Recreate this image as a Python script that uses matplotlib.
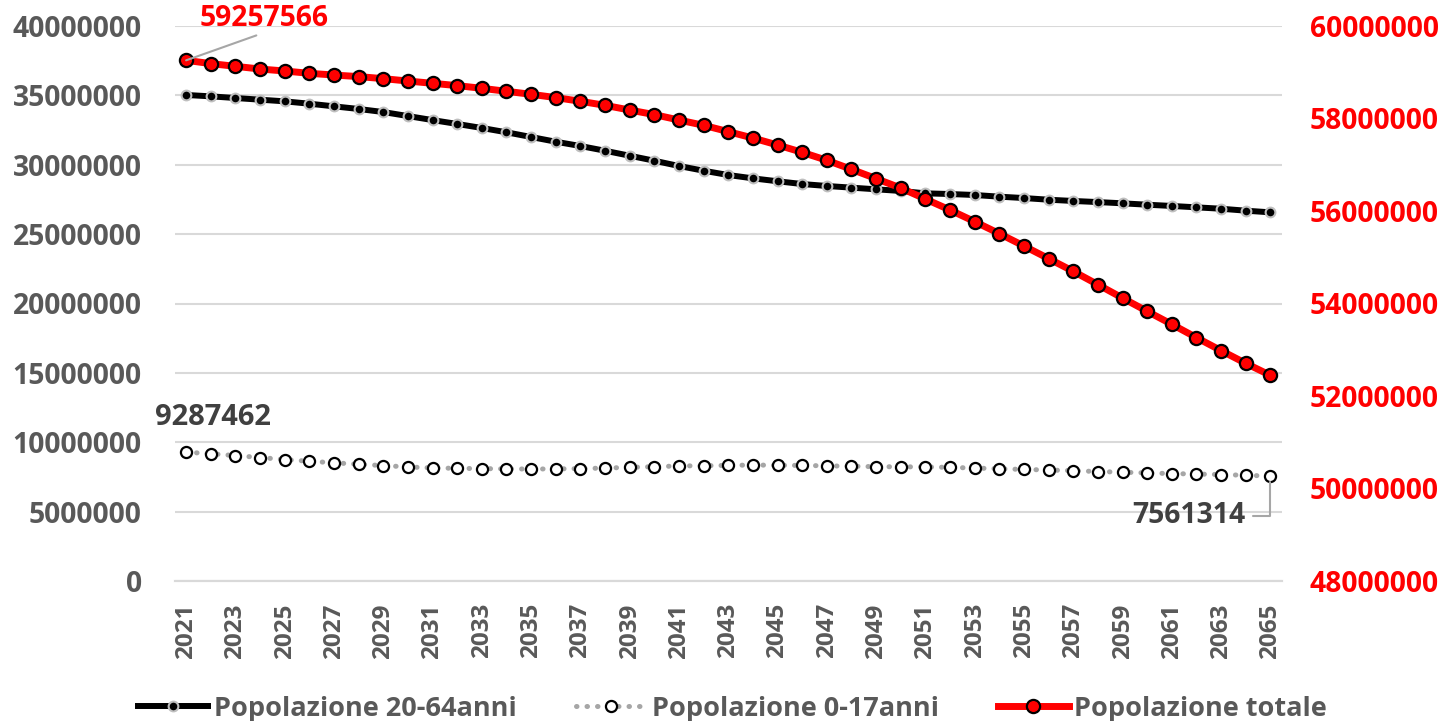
import matplotlib
matplotlib.use('Agg')
import matplotlib.pyplot as plt
from matplotlib.ticker import FuncFormatter

#——————————

years = list(range(2021, 2066))

# Popolazione 20-64 anni (left axis)
pop_20_64 = [35.03, 34.93, 34.81, 34.69, 34.57, 34.40, 34.21, 34.02, 33.80, 33.51,
             33.22, 32.94, 32.65, 32.34, 32.00, 31.66, 31.35, 31.01, 30.65, 30.29,
             29.91, 29.57, 29.26, 29.02, 28.81, 28.61, 28.47, 28.35, 28.23, 28.11,
             27.94, 27.89, 27.82, 27.70, 27.60, 27.48, 27.39, 27.31, 27.22, 27.12,
             27.03, 26.93, 26.83, 26.69, 26.57]

# Popolazione 0-17 anni (left axis)
pop_0_17 = [9.287462, 9.17, 9.04, 8.90, 8.75, 8.63, 8.52, 8.41, 8.32, 8.22,
            8.15, 8.12, 8.10, 8.08, 8.07, 8.08, 8.10, 8.14, 8.19, 8.24,
            8.29, 8.31, 8.33, 8.36, 8.34, 8.33, 8.30, 8.27, 8.24, 8.23,
            8.22, 8.19, 8.14, 8.09, 8.04, 8.00, 7.95, 7.89, 7.84, 7.79,
            7.74, 7.71, 7.67, 7.62, 7.561314]

# Popolazione totale (right axis)
pop_tot = [59.257566, 59.187, 59.128, 59.070, 59.027, 58.977, 58.940, 58.906, 58.862, 58.810,
           58.761, 58.711, 58.653, 58.588, 58.523, 58.452, 58.372, 58.285, 58.183, 58.084,
           57.967, 57.853, 57.716, 57.578, 57.427, 57.269, 57.096, 56.901, 56.700, 56.497,
           56.259, 56.021, 55.770, 55.511, 55.243, 54.970, 54.696, 54.408, 54.118, 53.831,
           53.550, 53.262, 52.981, 52.706, 52.447]

pop_20_64 = [v * 1e6 for v in pop_20_64]
pop_0_17 = [v * 1e6 for v in pop_0_17]
pop_tot = [v * 1e6 for v in pop_tot]

#——————————

plt.rcParams['font.family'] = ['Open Sans', 'DejaVu Sans']
plt.rcParams['font.weight'] = 'bold'

gray_txt = '#595959'
fig = plt.figure(figsize=(14.5, 7.21), dpi=100)
ax1 = fig.add_axes([175/1450, 1 - 581/721, (1282 - 175)/1450, (581 - 26)/721])
ax2 = ax1.twinx()

l1, = ax1.plot(years, pop_20_64, color='black', linewidth=4.3, marker='o', markersize=7,
               markerfacecolor='black', markeredgecolor='#BFBFBF', markeredgewidth=1.5,
               zorder=3, label='Popolazione 20-64anni')
l2, = ax1.plot(years, pop_0_17, color='#A6A6A6', linewidth=3.6, linestyle=(0, (0.1, 2.0)),
               dash_capstyle='round', marker='o', markersize=8, markerfacecolor='white',
               markeredgecolor='black', markeredgewidth=1.6, zorder=3,
               label='Popolazione 0-17anni')
l3, = ax2.plot(years, pop_tot, color='#FF0000', linewidth=5, marker='o', markersize=9.5,
               markerfacecolor='#FF0000', markeredgecolor='black', markeredgewidth=1.6,
               zorder=3, label='Popolazione totale')

fmt = FuncFormatter(lambda v, p: '%d' % v)

ax1.set_xlim(2020.55, 2065.47)
ax1.set_ylim(0, 40e6)
ax1.set_yticks(range(0, 40000001, 5000000))
ax1.yaxis.set_major_formatter(fmt)
ax1.set_xticks(years[::2])
ax1.set_xticklabels([str(y) for y in years[::2]], rotation=90)
ax1.grid(axis='y', color='#D9D9D9', linewidth=1.5)
ax1.set_axisbelow(True)
ax1.tick_params(axis='y', length=0, labelsize=20.3, labelcolor=gray_txt, pad=24)
ax1.tick_params(axis='x', length=0, labelsize=17.5, labelcolor=gray_txt, pad=16)

ax2.set_ylim(48e6, 60e6)
ax2.set_yticks(range(48000000, 60000001, 2000000))
ax2.yaxis.set_major_formatter(fmt)
ax2.tick_params(axis='y', length=0, labelsize=20.3, labelcolor='#FF0000', pad=20)

for a in (ax1, ax2):
    for s in ['top', 'left', 'right']:
        a.spines[s].set_visible(False)
    a.spines['bottom'].set_color('#D9D9D9')
    a.spines['bottom'].set_linewidth(1.5)

# data labels with leader lines
ax2.annotate('%d' % pop_tot[0], xy=(years[0], pop_tot[0]), xytext=(2021.55, 60.17e6),
             color='#FF0000', fontsize=20.3, fontweight='bold', va='center', ha='left',
             arrowprops=dict(arrowstyle='-', color='#A6A6A6', lw=1.5,
                             shrinkA=0, shrinkB=0, relpos=(0.5, 0)))
ax1.annotate('%d' % pop_0_17[0], xy=(years[0], pop_0_17[0]), xytext=(2022.1, 11.8e6),
             color='#404040', fontsize=21, fontweight='bold', va='center', ha='center')
ax1.annotate('%d' % pop_0_17[-1], xy=(years[-1], pop_0_17[-1]), xytext=(2064.0, 4.7e6),
             color='#404040', fontsize=20.3, fontweight='bold', va='center', ha='right',
             arrowprops=dict(arrowstyle='-', color='#A6A6A6', lw=1.5, shrinkA=3, shrinkB=4,
                             connectionstyle='angle,angleA=0,angleB=90,rad=0',
                             relpos=(1, 0.5)))

fig.legend(handles=[l1, l2, l3], loc='lower center', bbox_to_anchor=(0.505, -0.035), ncol=3,
           frameon=False, numpoints=1, handlelength=2.6, handletextpad=0.2,
           columnspacing=2.2, prop={'size': 19.5, 'weight': 'bold'}, labelcolor=gray_txt)

plt.savefig('out.png', dpi=100)
